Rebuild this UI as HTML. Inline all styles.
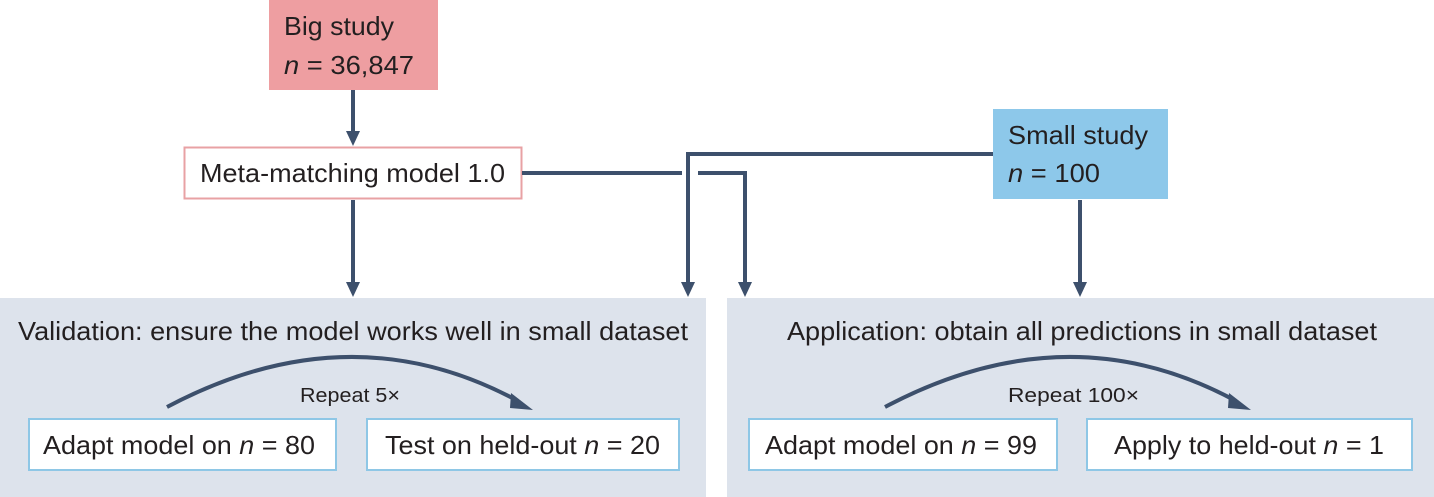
<!DOCTYPE html>
<html><head><meta charset="utf-8"><style>
html,body{margin:0;padding:0;background:#fff;}
svg{display:block;}
text{font-family:"Liberation Sans",Arial,sans-serif;fill:#231f20;}
</style></head><body>
<svg width="1434" height="497" viewBox="0 0 1434 497" xmlns="http://www.w3.org/2000/svg">
<rect x="0" y="298" width="706" height="199" fill="#dde3ec"/>
<rect x="727" y="298" width="707" height="199" fill="#dde3ec"/>

<rect x="269" y="0" width="169" height="90" fill="#ee9ea1"/>
<text x="284" y="35" font-size="26" textLength="110" lengthAdjust="spacingAndGlyphs">Big study</text>
<text x="284" y="74" font-size="26" textLength="130" lengthAdjust="spacingAndGlyphs"><tspan font-style="italic">n</tspan> = 36,847</text>

<rect x="993" y="109" width="175" height="90" fill="#8dc8ea"/>
<text x="1008" y="144" font-size="26" textLength="140" lengthAdjust="spacingAndGlyphs">Small study</text>
<text x="1008" y="182" font-size="26" textLength="92" lengthAdjust="spacingAndGlyphs"><tspan font-style="italic">n</tspan> = 100</text>

<rect x="184.5" y="147.5" width="337" height="51" fill="#fff" stroke="#e8a2a4" stroke-width="2"/>
<text x="200" y="182" font-size="26" textLength="305" lengthAdjust="spacingAndGlyphs">Meta-matching model 1.0</text>

<g stroke="#3d506c" stroke-width="4" fill="none">
<line x1="353" y1="90" x2="353" y2="136"/>
<line x1="353" y1="200" x2="353" y2="284"/>
<polyline points="522,173 682,173"/>
<polyline points="698,173 745,173 745,284"/>
<polyline points="993,154 688,154 688,284"/>
<line x1="1080" y1="200" x2="1080" y2="284"/>
<path d="M167,407 Q350,310 518,401"/>
<path d="M885,407 Q1068,310 1236,401"/>
</g>
<g fill="#3d506c">
<polygon points="346,131 360,131 353,146"/>
<polygon points="346,282 360,282 353,297"/>
<polygon points="681,282 695,282 688,297"/>
<polygon points="738,282 752,282 745,297"/>
<polygon points="1073,282 1087,282 1080,297"/>
<polygon points="511,393 533,410 510,408"/>
<polygon points="1229,393 1251,410 1228,408"/>
</g>

<text x="18" y="340" font-size="26" textLength="670" lengthAdjust="spacingAndGlyphs">Validation: ensure the model works well in small dataset</text>
<text x="787" y="340" font-size="26" textLength="590" lengthAdjust="spacingAndGlyphs">Application: obtain all predictions in small dataset</text>
<text x="300" y="402" font-size="20" textLength="100" lengthAdjust="spacingAndGlyphs">Repeat 5×</text>
<text x="1008" y="402" font-size="20" textLength="131" lengthAdjust="spacingAndGlyphs">Repeat 100×</text>

<g fill="#fff" stroke="#8ec7e6" stroke-width="2">
<rect x="29" y="419" width="307" height="51"/>
<rect x="367" y="419" width="312" height="51"/>
<rect x="749" y="419" width="308" height="51"/>
<rect x="1087" y="419" width="325" height="51"/>
</g>
<text x="43" y="454" font-size="26" textLength="272" lengthAdjust="spacingAndGlyphs">Adapt model on <tspan font-style="italic">n</tspan> = 80</text>
<text x="385" y="454" font-size="26" textLength="275" lengthAdjust="spacingAndGlyphs">Test on held-out <tspan font-style="italic">n</tspan> = 20</text>
<text x="765" y="454" font-size="26" textLength="272" lengthAdjust="spacingAndGlyphs">Adapt model on <tspan font-style="italic">n</tspan> = 99</text>
<text x="1114" y="454" font-size="26" textLength="270" lengthAdjust="spacingAndGlyphs">Apply to held-out <tspan font-style="italic">n</tspan> = 1</text>
</svg>
</body></html>
